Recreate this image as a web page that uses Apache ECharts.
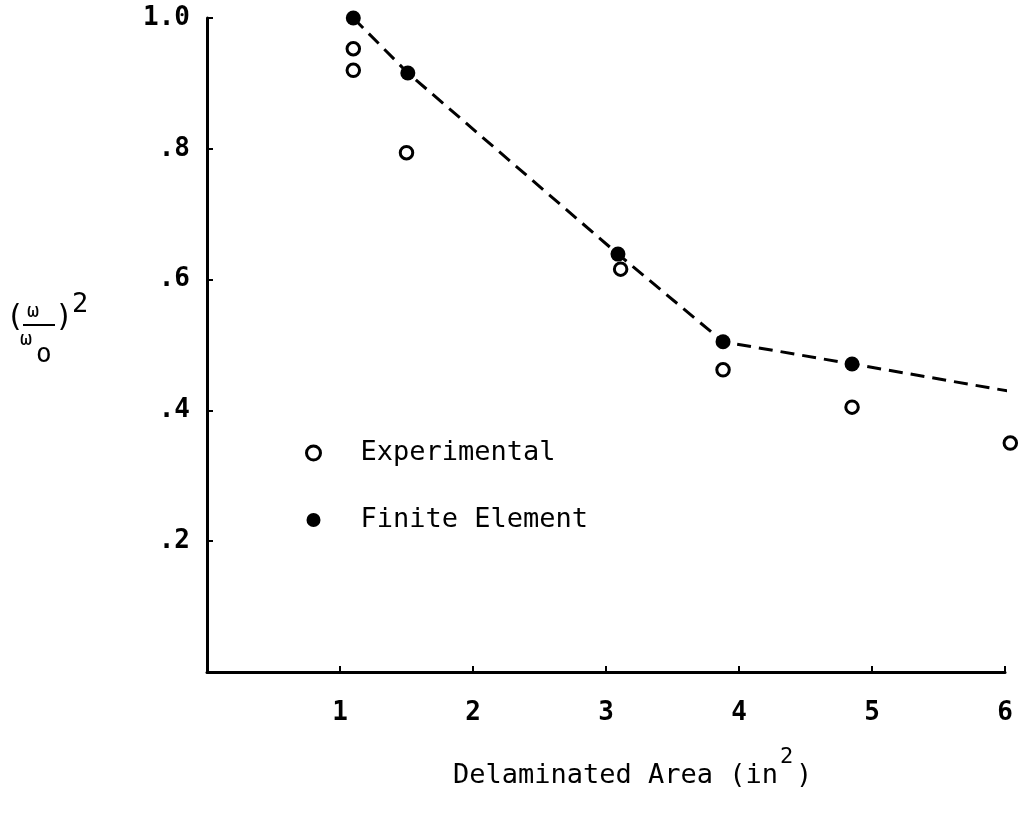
<!DOCTYPE html>
<html>
<head>
<meta charset="utf-8">
<title>Frequency ratio vs delaminated area</title>
<script src="https://cdn.jsdelivr.net/npm/echarts@6/dist/echarts.min.js"></script>
<style>
  html, body { margin: 0; padding: 0; background: #fff; }
  #chart { width: 1020px; height: 831px; }
</style>
</head>
<body>
<div id="chart"></div>
<script>
// Measured (open circles)
const expX = [1.10, 1.10, 1.50, 3.11, 3.88, 4.85, 6.04];
const expY = [0.953, 0.920, 0.794, 0.616, 0.462, 0.405, 0.350];

// Finite element predictions (filled circles)
const feX = [1.10, 1.51, 3.09, 3.88, 4.85];
const feY = [1.000, 0.916, 0.639, 0.505, 0.471];

// Dashed trend through the finite element results, carried past the last point
const trendX = [1.10, 1.51, 3.09, 3.88, 4.85, 6.10];
const trendY = [1.000, 0.916, 0.639, 0.505, 0.471, 0.427];

// Axis tick labels
const xTickLabels = ['', '1', '2', '3', '4', '5', '6'];
const yTickLabels = ['', '.2', '.4', '.6', '.8', '1.0'];

const FONT = '"DejaVu Sans Mono", "Liberation Mono", monospace';
const INK = '#000';

const zip = (xs, ys) => xs.map((x, i) => [x, ys[i]]);

const chart = echarts.init(document.getElementById('chart'), null, { renderer: 'canvas' });

chart.setOption({
  backgroundColor: '#fff',
  animation: false,
  grid: { left: 207, right: 15, top: 18, bottom: 159, containLabel: false },
  xAxis: {
    type: 'value', min: 0, max: 6, interval: 1,
    axisLine: { show: true, lineStyle: { color: INK, width: 3 } },
    axisTick: { show: true, inside: true, length: 6, lineStyle: { color: INK, width: 2 } },
    splitLine: { show: false },
    axisLabel: {
      margin: 28, color: INK, fontFamily: FONT, fontSize: 26, fontWeight: 'bold',
      formatter: v => xTickLabels[Math.round(v)] || ''
    }
  },
  yAxis: {
    type: 'value', min: 0, max: 1, interval: 0.2,
    axisLine: { show: true, lineStyle: { color: INK, width: 3 } },
    axisTick: { show: true, inside: true, length: 6, lineStyle: { color: INK, width: 2 } },
    splitLine: { show: false },
    axisLabel: {
      margin: 17, color: INK, fontFamily: FONT, fontSize: 26, fontWeight: 'bold',
      formatter: v => yTickLabels[Math.round(v / 0.2)] || ''
    }
  },
  legend: {
    orient: 'vertical', left: 300, top: 434,
    itemWidth: 84, itemHeight: 14, itemGap: 39,
    textStyle: { color: INK, fontFamily: FONT, fontSize: 27, lineHeight: 28 },
    data: [
      { name: 'Experimental', icon: 'circle',
        itemStyle: { color: '#fff', borderColor: INK, borderWidth: 3 } },
      { name: 'Finite Element', icon: 'circle',
        itemStyle: { color: INK, borderWidth: 0 } }
    ]
  },
  series: [
    {
      name: 'trend', type: 'line', data: zip(trendX, trendY),
      showSymbol: false, symbol: 'none', clip: false, z: 2,
      lineStyle: { color: INK, width: 3, type: [14, 8] }
    },
    {
      name: 'Experimental', type: 'scatter', data: zip(expX, expY),
      symbol: 'circle', symbolSize: 12.5, clip: false, z: 3,
      itemStyle: { color: '#fff', borderColor: INK, borderWidth: 3, opacity: 1 }
    },
    {
      name: 'Finite Element', type: 'scatter', data: zip(feX, feY),
      symbol: 'circle', symbolSize: 15, clip: false, z: 4,
      itemStyle: { color: INK, opacity: 1 }
    }
  ],
  graphic: [
    // y-axis label: (omega / omega_o)^2
    { type: 'text', left: 6, top: 303, style: { text: '(', font: '30px ' + FONT, fill: INK } },
    { type: 'text', left: 27, top: 302, style: { text: 'ω', font: '20px ' + FONT, fill: INK } },
    { type: 'line', shape: { x1: 23, y1: 325, x2: 55, y2: 325 }, style: { stroke: INK, lineWidth: 2 } },
    { type: 'text', left: 20, top: 330, style: { text: 'ω', font: '20px ' + FONT, fill: INK } },
    { type: 'text', left: 36, top: 342, style: { text: 'o', font: '26px ' + FONT, fill: INK } },
    { type: 'text', left: 55, top: 303, style: { text: ')', font: '30px ' + FONT, fill: INK } },
    { type: 'text', left: 72, top: 291, style: { text: '2', font: '27px ' + FONT, fill: INK } },
    // x-axis title: Delaminated Area (in^2)
    { type: 'text', left: 453, top: 762, style: { text: 'Delaminated Area (in', font: '27px ' + FONT, fill: INK } },
    { type: 'text', left: 780, top: 746, style: { text: '2', font: '22px ' + FONT, fill: INK } },
    { type: 'text', left: 796, top: 762, style: { text: ')', font: '27px ' + FONT, fill: INK } }
  ]
});
</script>
</body>
</html>
